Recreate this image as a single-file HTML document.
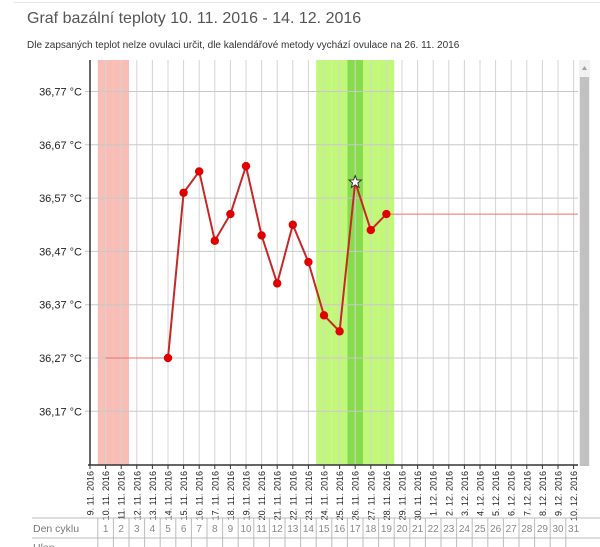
<!DOCTYPE html>
<html><head><meta charset="utf-8"><style>
body{margin:0;width:600px;height:547px;overflow:hidden;background:#fff;font-family:"Liberation Sans",sans-serif;}
#title{position:absolute;left:27px;top:10px;font-size:16px;color:#555;}
#sub{position:absolute;left:27px;top:40px;font-size:10px;color:#333;}
</style></head><body>
<div style="position:absolute;left:14px;top:2px;width:586px;border-top:1px solid #e6e6e6"></div>
<div id="title">Graf bazální teploty 10. 11. 2016 - 14. 12. 2016</div>
<div id="sub">Dle zapsaných teplot nelze ovulaci určit, dle kalendářové metody vychází ovulace na 26. 11. 2016</div>
<svg id="c" width="600" height="547" style="position:absolute;left:0;top:0"></svg>
<script>
const dates=["9. 11. 2016","10. 11. 2016","11. 11. 2016","12. 11. 2016","13. 11. 2016","14. 11. 2016","15. 11. 2016","16. 11. 2016","17. 11. 2016","18. 11. 2016","19. 11. 2016","20. 11. 2016","21. 11. 2016","22. 11. 2016","23. 11. 2016","24. 11. 2016","25. 11. 2016","26. 11. 2016","27. 11. 2016","28. 11. 2016","29. 11. 2016","30. 11. 2016","1. 12. 2016","2. 12. 2016","3. 12. 2016","4. 12. 2016","5. 12. 2016","6. 12. 2016","7. 12. 2016","8. 12. 2016","9. 12. 2016","10. 12. 2016"];
const tempDays=[5,6,7,8,9,10,11,12,13,14,15,16,17,18,19];
const temps=[36.27,36.58,36.62,36.49,36.54,36.63,36.50,36.41,36.52,36.45,36.35,36.32,36.60,36.51,36.54];
const yTicks=[36.17,36.27,36.37,36.47,36.57,36.67,36.77];
const menstruationDays=[1,2];
const fertileDays=[15,16,17,18,19];
const ovulationDay=17;
const NS="http://www.w3.org/2000/svg";
const svg=document.getElementById('c');
const X=i=>90+i*15.6;
const Y=v=>358-(v-36.27)*533;
function mk(t,a,p){const e=document.createElementNS(NS,t);for(const k in a)e.setAttribute(k,a[k]);(p||svg).appendChild(e);return e;}
const yTop=60,yBot=465,xRight=578;
menstruationDays.forEach(d=>{const r=mk('rect',{x:X(d)-7.8,y:yTop,width:15.6,height:yBot-yTop,fill:'#f9bdb6'});

});
fertileDays.forEach(d=>{const r=mk('rect',{x:X(d)-7.8,y:yTop,width:15.6,height:yBot-yTop,fill:d===ovulationDay?'#86dc4c':'#c2f87a'});

});
dates.forEach((d,i)=>{if(i>0){const l=mk('line',{x1:X(i),x2:X(i),y1:yTop,y2:yBot,stroke:'#d4d4d4','stroke-width':1});

}});
yTicks.forEach(v=>{const l=mk('line',{x1:85,x2:xRight,y1:Y(v),y2:Y(v),stroke:'#c8c8c8'});


const t=mk('text',{x:82,y:Y(v)+4,'text-anchor':'end','font-size':11,fill:'#222'});t.textContent=v.toFixed(2).replace('.',',')+' °C';

});
mk('line',{x1:90,x2:90,y1:yTop,y2:yBot,stroke:'#333','stroke-width':1.5});
mk('line',{x1:88,x2:xRight,y1:yBot,y2:yBot,stroke:'#333','stroke-width':1.5});
dates.forEach((d,i)=>{mk('line',{x1:X(i),x2:X(i),y1:yBot,y2:yBot+4,stroke:'#333'});
const t=mk('text',{transform:`translate(${X(i)+3.5},${yBot+6}) rotate(-90)`,'text-anchor':'end','font-size':9,fill:'#222'});t.textContent=d;

});
mk('line',{x1:X(1),x2:X(tempDays[0]),y1:Y(temps[0]),y2:Y(temps[0]),stroke:'#e57373','stroke-width':1});
mk('line',{x1:X(tempDays[tempDays.length-1]),x2:xRight,y1:Y(temps[temps.length-1]),y2:Y(temps[temps.length-1]),stroke:'#e57373','stroke-width':1});
const pl=mk('polyline',{points:tempDays.map((d,i)=>X(d)+','+Y(temps[i])).join(' '),fill:'none',stroke:'#c62828','stroke-width':2});


tempDays.forEach((d,i)=>{
 if(d===ovulationDay){const cx=X(d),cy=Y(temps[i]);let p=[];for(let k=0;k<10;k++){const r=k%2?2.8:6.5,a=-Math.PI/2+k*Math.PI/5;p.push((cx+r*Math.cos(a))+','+(cy+r*Math.sin(a)));}
 const s=mk('polygon',{points:p.join(' '),fill:'#fff',stroke:'#333','stroke-width':1});
 
 }
 else{const c=mk('circle',{cx:X(d),cy:Y(temps[i]),r:4.2,fill:'#e00000'});
 
 }
});
const sb=mk('rect',{x:579,y:60,width:11,height:406,fill:'#f1f1f1'});


mk('rect',{x:580,y:77,width:9,height:389,fill:'#c1c1c1'});
mk('path',{d:'M582 70 L584.5 66 L587 70 Z',fill:'#a0a0a0'});
mk('line',{x1:32,x2:600,y1:518,y2:518,stroke:'#bbb'});
mk('line',{x1:32,x2:600,y1:538,y2:538,stroke:'#bbb'});
const lab=mk('text',{x:33,y:532,'font-size':10.5,fill:'#777'});lab.textContent='Den cyklu';


const lab2=mk('text',{x:33,y:551,'font-size':10.5,fill:'#777'});lab2.textContent='Hlen';


for(let i=1;i<=31;i++){mk('line',{x1:X(i)-7.8,x2:X(i)-7.8,y1:518,y2:547,stroke:'#bbb'});
const t=mk('text',{x:X(i),y:532,'text-anchor':'middle','font-size':10,fill:'#888'});t.textContent=i;

}
</script>
</body></html>
